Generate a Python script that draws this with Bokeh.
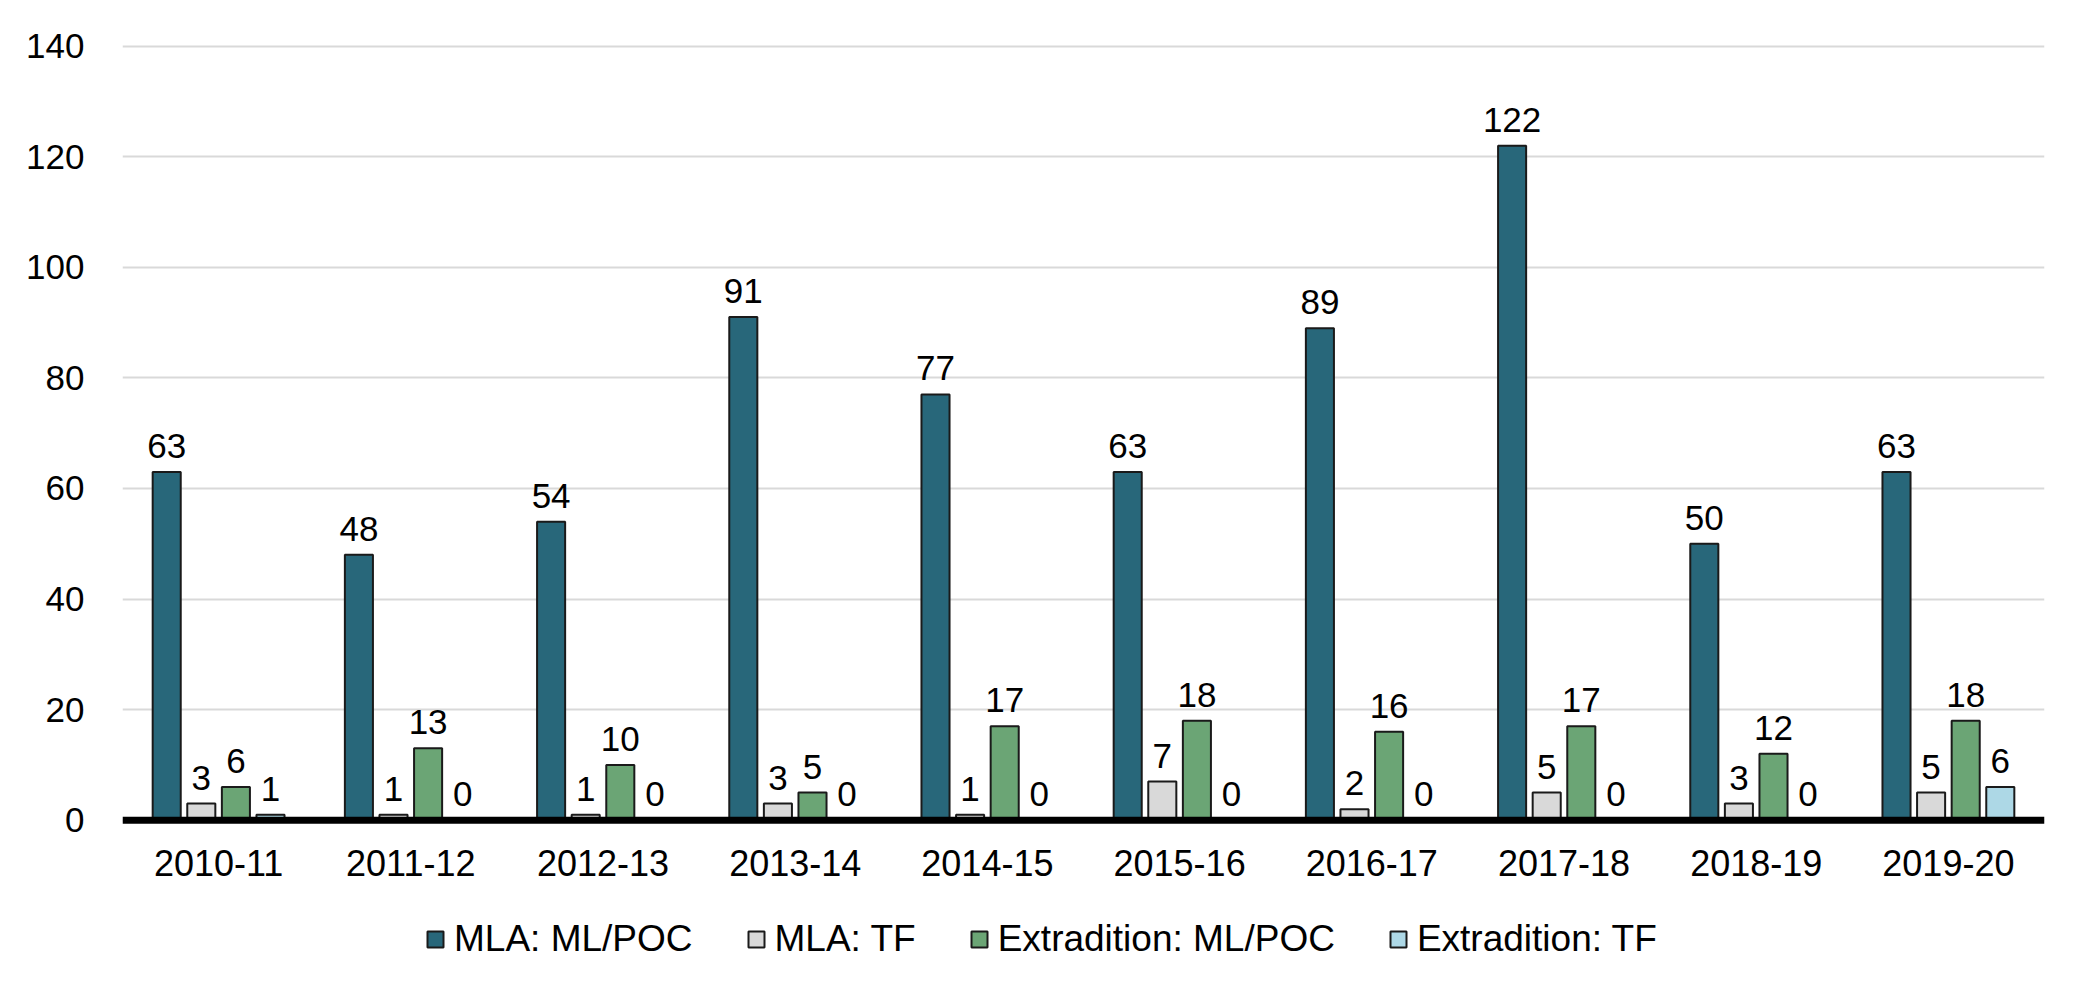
from bokeh.plotting import figure
from bokeh.layouts import column
from bokeh.models import (ColumnDataSource, FactorRange, FixedTicker, Span, Legend, LegendItem)
from bokeh.transform import dodge
from bokeh.core.properties import value
from bokeh.embed import file_html
from bokeh.resources import INLINE

years = ["2010-11", "2011-12", "2012-13", "2013-14", "2014-15",
         "2015-16", "2016-17", "2017-18", "2018-19", "2019-20"]
series_names = ["MLA: ML/POC", "MLA: TF", "Extradition: ML/POC", "Extradition: TF"]
mla_mlpoc = [63, 48, 54, 91, 77, 63, 89, 122, 50, 63]
mla_tf = [3, 1, 1, 3, 1, 7, 2, 5, 3, 5]
ext_mlpoc = [6, 13, 10, 5, 17, 18, 16, 17, 12, 18]
ext_tf = [1, 0, 0, 0, 0, 0, 0, 0, 0, 6]
y_ticks = [0, 20, 40, 60, 80, 100, 120, 140]

colors = ["#28677A", "#D9D9D9", "#6BA575", "#ADD8E6"]
offsets = [-0.27, -0.09, 0.09, 0.27]
FONT = "Liberation Sans"
OUTLINE = "#1a1a1a"

data = dict(year=years, s0=mla_mlpoc, s1=mla_tf, s2=ext_mlpoc, s3=ext_tf)
for k in ["s0", "s1", "s2", "s3"]:
    data[k + "_lbl"] = [str(v) for v in data[k]]
src = ColumnDataSource(data)

p = figure(width=2075, height=900, x_range=FactorRange(*years), y_range=(-1.5, 140.3),
           output_backend="svg", toolbar_location=None,
           min_border_left=122, min_border_right=31, min_border_top=44, min_border_bottom=72)
p.outline_line_color = None
p.background_fill_color = "white"

for i, k in enumerate(["s0", "s1", "s2", "s3"]):
    p.vbar(x=dodge("year", offsets[i], range=p.x_range), top=k, bottom=0, width=0.146,
           source=src, fill_color=colors[i], line_color=OUTLINE, line_width=2)
    p.text(x=dodge("year", offsets[i], range=p.x_range), y=k, text=k + "_lbl", source=src,
           text_align="center", text_baseline="alphabetic", y_offset=-26,
           text_font=value(FONT), text_font_size="35px", text_color="black")

p.add_layout(Span(location=0, dimension="width", line_color="black", line_width=7))

p.xgrid.grid_line_color = None
p.ygrid.grid_line_color = "#D9D9D9"
p.ygrid.grid_line_width = 2
p.yaxis.ticker = FixedTicker(ticks=y_ticks)
p.yaxis.axis_line_color = None
p.yaxis.major_tick_line_color = None
p.yaxis.minor_tick_line_color = None
p.yaxis.major_label_standoff = 32
p.yaxis.major_label_text_font = FONT
p.yaxis.major_label_text_font_size = "35px"
p.yaxis.major_label_text_color = "black"

p.xaxis.axis_line_color = None
p.xaxis.major_tick_line_color = None
p.xaxis.minor_tick_line_color = None
p.xaxis.major_label_standoff = 15
p.xaxis.major_label_text_font = FONT
p.xaxis.major_label_text_font_size = "36px"
p.xaxis.major_label_text_color = "black"

# legend strip below the chart (its frame is aligned with the chart frame by the column layout)
lf = figure(width=2075, height=88, x_range=(0, 1), y_range=(0, 1),
            output_backend="svg", toolbar_location=None,
            x_axis_type=None, y_axis_type=None,
            min_border_left=0, min_border_right=0, min_border_top=0, min_border_bottom=0)
lf.outline_line_color = None
lf.xgrid.grid_line_color = None
lf.ygrid.grid_line_color = None
items = []
for i, name in enumerate(series_names):
    # one undrawn (NaN) bar so the legend swatch takes the series style
    r = lf.vbar(x=[0.5], top=[float("nan")], bottom=[0], width=0.1,
                fill_color=colors[i], line_color=OUTLINE, line_width=2)
    items.append(LegendItem(label=name, renderers=[r]))
legend = Legend(items=items, orientation="horizontal", location=(298, 23),
                glyph_width=20, glyph_height=20, label_standoff=9, spacing=53,
                padding=5, margin=0, border_line_alpha=0, background_fill_alpha=0,
                label_text_font=FONT, label_text_font_size="37px", label_text_color="black")
lf.add_layout(legend, "center")

open("out.html", "w").write(file_html(column(p, lf, spacing=0), INLINE))
